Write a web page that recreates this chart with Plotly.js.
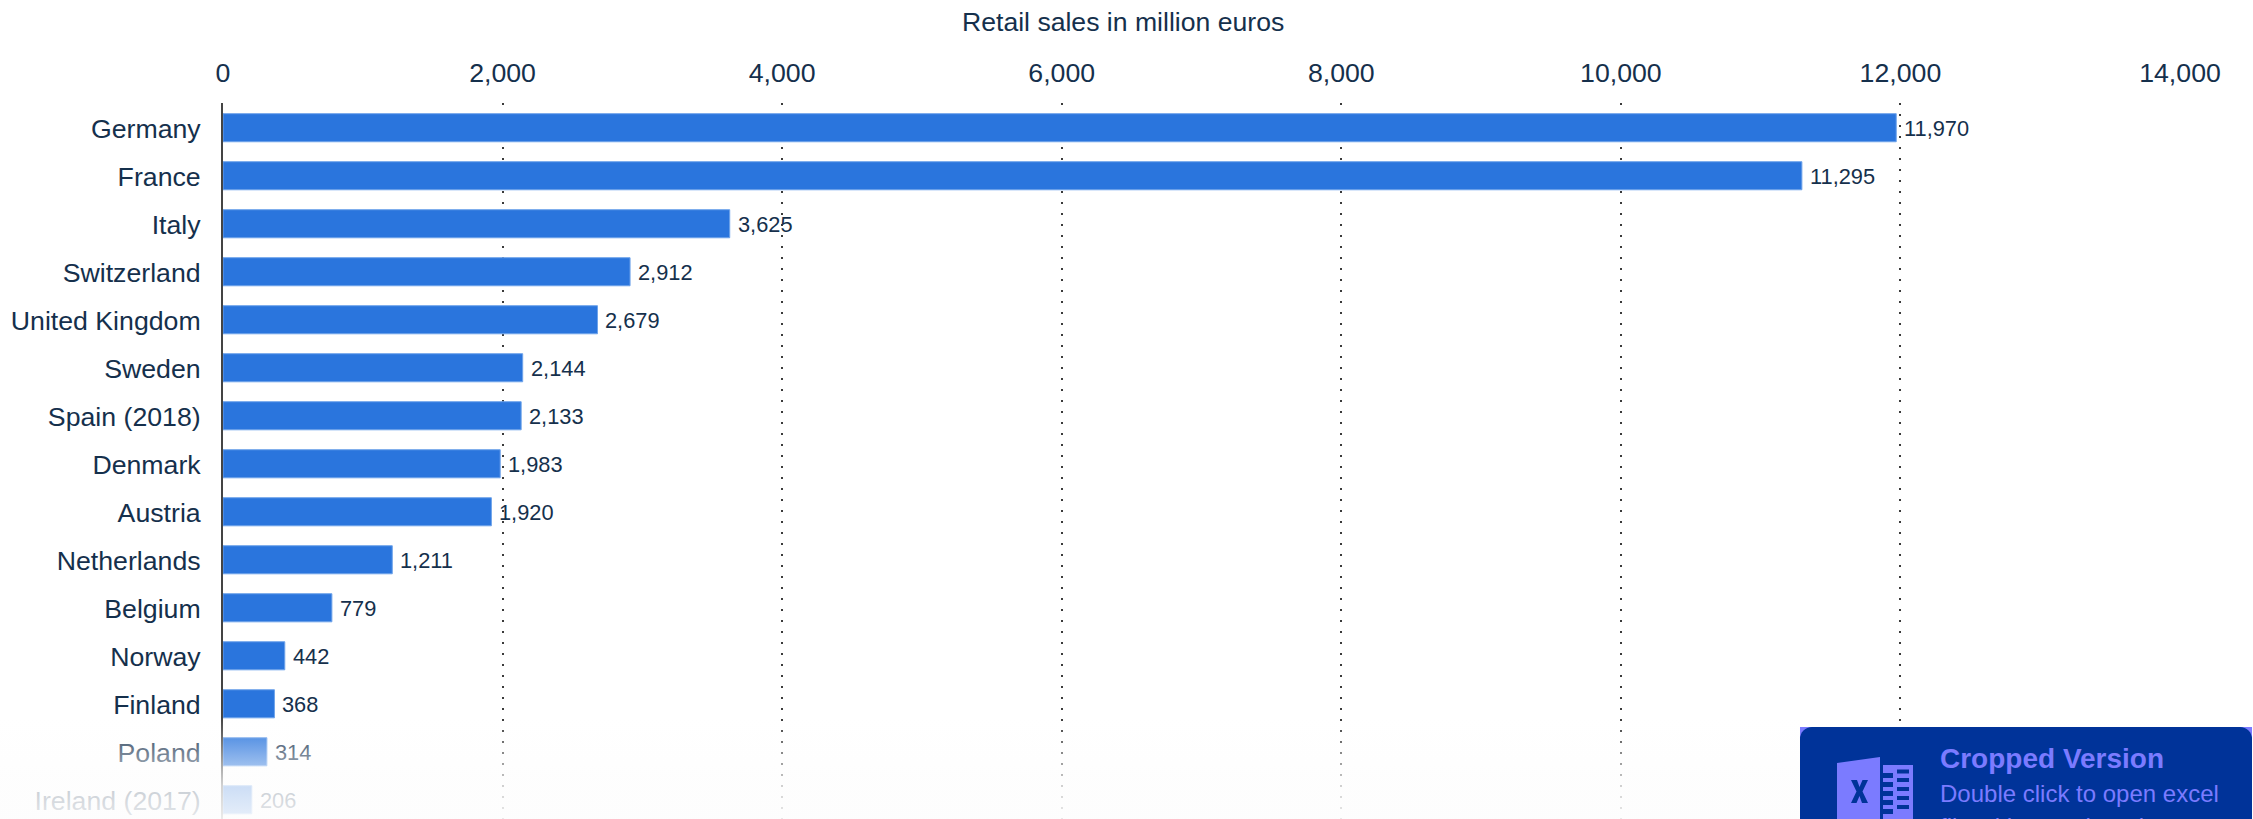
<!DOCTYPE html>
<html>
<head>
<meta charset="utf-8">
<script src="https://cdn.plot.ly/plotly-3.0.1.min.js"></script>
<style>
html,body{margin:0;padding:0;background:#fff;overflow:hidden;width:2253px;height:819px}
#chart{position:absolute;left:0;top:0;width:2253px;height:819px}
#fade{position:absolute;left:0;top:718px;width:2253px;height:101px;pointer-events:none;
background:linear-gradient(to bottom,rgba(253,253,253,0) 0,rgba(253,253,253,.22) 19px,rgba(253,253,253,.55) 48px,rgba(253,253,253,.77) 68px,rgba(253,253,253,.88) 96px,rgba(253,253,253,.9) 101px)}
#badge{position:absolute;left:1800px;top:727px;width:452px;height:92px;background:#7b7bff;overflow:hidden}
#badgeIn{position:absolute;left:0;top:0;width:452px;height:112px;background:#003399;border-radius:12px;font-family:"Liberation Sans",Arial,sans-serif;color:#7b7bff}
#badgeIn svg{position:absolute;left:37px;top:30px}
.l1{position:absolute;left:140px;top:16px;font-size:28px;font-weight:bold;line-height:32px;white-space:nowrap}
.l2{position:absolute;left:140px;top:51px;font-size:24px;line-height:32px;white-space:nowrap}
.l3{position:absolute;left:140px;top:84px;font-size:24px;line-height:32px;white-space:nowrap}
</style>
</head>
<body>
<div id="chart"></div>
<div id="fade"></div>
<div id="badge"><div id="badgeIn">
<svg width="80" height="62" viewBox="0 0 80 62">
<path d="M0 6 L43 0 L43 62 L0 62 Z" fill="#7b7bff"/>
<path d="M14 23 H20 L22.5 30 L25.5 23 H31 L25.5 34.5 L31 46 H25 L22.5 39 L19.5 46 H14 L19.5 34.5 Z" fill="#003399"/>
<path d="M46 8 H76 V62 H46 V57 H56 V52 H46 V48 H56 V43 H46 V39 H56 V34 H46 V30 H56 V25 H46 V21 H56 V16 H46 Z M60 12.500 V16.500 H72 V12.500 Z M60 21 V25 H72 V21 Z M60 30 V34 H72 V30 Z M60 39 V43 H72 V39 Z M60 48 V52 H72 V48 Z" fill="#7b7bff" fill-rule="evenodd"/>
</svg>
<div class="l1">Cropped Version</div>
<div class="l2">Double click to open excel</div>
<div class="l3">file with complete data</div>
</div></div>
<script>
const countries = ["Germany","France","Italy","Switzerland","United Kingdom","Sweden","Spain (2018)","Denmark","Austria","Netherlands","Belgium","Norway","Finland","Poland","Ireland (2017)"];
const retailSales = [11970,11295,3625,2912,2679,2144,2133,1983,1920,1211,779,442,368,314,206];
const xTicks = [0,2000,4000,6000,8000,10000,12000,14000];
const chartTitle = "Retail sales in million euros";

const ink = "#15304c";
const trace = {
  type:"bar", orientation:"h", x:retailSales, y:countries, width:0.585,
  marker:{color:"#2a75dd", line:{color:"#6ea3ea", width:1}}, hoverinfo:"x+y"
};
const labels = retailSales.map((v,i)=>({
  x:v, y:countries[i], xref:"x", yref:"y", xanchor:"left", yanchor:"middle",
  xshift:6, yshift:-1, showarrow:false, text:v.toLocaleString("en-US"),
  font:{family:"Liberation Sans, Arial, sans-serif", size:21.8, color:ink}
}));
const layout = {
  width:2253, height:819, paper_bgcolor:"#fff", plot_bgcolor:"rgba(0,0,0,0)",
  margin:{l:223,r:73,t:103,b:0,pad:0}, bargap:0.4, showlegend:false,
  font:{family:"Liberation Sans, Arial, sans-serif", size:26.7, color:ink},
  title:{text:chartTitle, x:0.4985, xref:"container", xanchor:"center", y:0.974, yanchor:"middle", yref:"container",
         font:{family:"Liberation Sans, Arial, sans-serif", size:26.6, color:ink}},
  xaxis:{side:"top", range:[0,14000], tickvals:xTicks, ticktext:xTicks.map(v=>v.toLocaleString("en-US")),
         showgrid:true, gridcolor:"#3a3a3a", gridwidth:2, griddash:"2px,9px", zeroline:false, showline:false,
         ticks:"outside", ticklen:9, tickcolor:"rgba(0,0,0,0)", tickfont:{size:26.7,color:ink}},
  yaxis:{type:"category", categoryorder:"array", categoryarray:countries, range:[14.4,-0.515],
         showgrid:false, zeroline:false, showline:true, linecolor:"#444", linewidth:2, ticklabelshift:-1,
         ticks:"outside", ticklen:15, tickcolor:"rgba(0,0,0,0)", tickfont:{size:26.7,color:ink}},
  annotations:labels
};
Plotly.newPlot("chart",[trace],layout,{displayModeBar:false,responsive:false});
</script>
</body>
</html>
